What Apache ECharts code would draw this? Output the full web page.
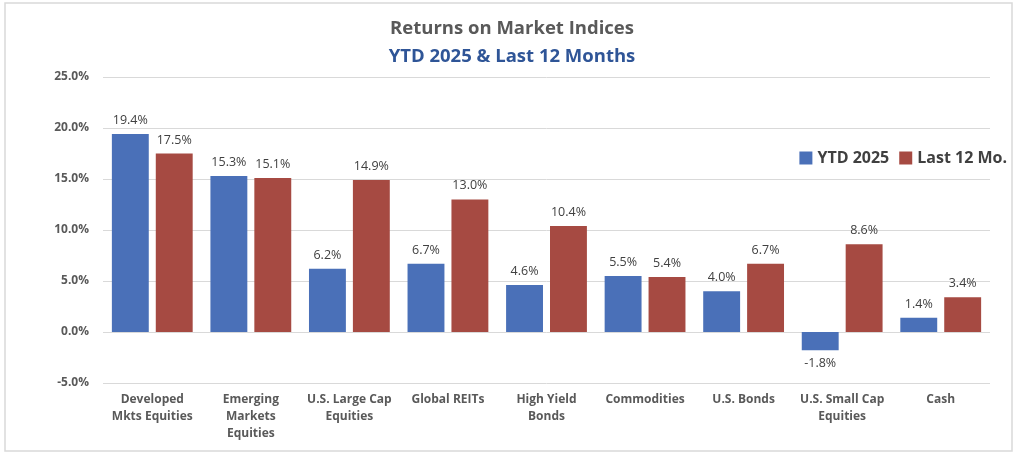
<!DOCTYPE html>
<html><head><meta charset="utf-8">
<script src="https://cdn.jsdelivr.net/npm/echarts@6/dist/echarts.min.js"></script>
<style>html,body{margin:0;padding:0;background:#fff}#c{width:1024px;height:456px}</style>
</head><body><div id="c"></div>
<script>
const categories = ["Developed\nMkts Equities","Emerging\nMarkets\nEquities","U.S. Large Cap\nEquities","Global REITs","High Yield\nBonds","Commodities","U.S. Bonds","U.S. Small Cap\nEquities","Cash"];
const ytd2025 = [19.4, 15.3, 6.2, 6.7, 4.6, 5.5, 4.0, -1.8, 1.4];
const last12 = [17.5, 15.1, 14.9, 13.0, 10.4, 5.4, 6.7, 8.6, 3.4];
const seriesNames = ["YTD 2025", "Last 12 Mo."];
const FONT = "'Open Sans', 'Noto Sans', sans-serif";
function toData(arr){
  return arr.map(v => ({value: v, label: {position: v < 0 ? 'bottom' : 'top'}}));
}
const chart = echarts.init(document.getElementById('c'));
const lbl = {show: true, distance: 7, color: '#404040', fontFamily: FONT, fontSize: 12.5,
  formatter: p => p.value.toFixed(1) + '%'};
chart.setOption({
  animation: false,
  graphic: [{type: 'rect', shape: {x: 5, y: 3, width: 1007, height: 448},
    style: {fill: 'none', stroke: '#d9d9d9', lineWidth: 1.5}, z: -1}],
  title: [
    {text: 'Returns on Market Indices', left: 'center', top: 14,
      textStyle: {color: '#595959', fontSize: 18.5, fontWeight: 'bold', fontFamily: FONT}},
    {text: 'YTD 2025 & Last 12 Months', left: 'center', top: 42,
      textStyle: {color: '#2F5597', fontSize: 18.5, fontWeight: 'bold', fontFamily: FONT}}
  ],
  legend: {data: seriesNames, right: 12, top: 145, itemWidth: 13, itemHeight: 13, itemGap: 10,
    icon: 'rect', textStyle: {color: '#404040', fontSize: 16, fontWeight: 'bold', fontFamily: FONT}},
  grid: {left: 103, right: 34, top: 77, bottom: 73},
  xAxis: {type: 'category', data: categories,
    axisLine: {show: false}, axisTick: {show: false},
    axisLabel: {color: '#595959', fontWeight: 'bold', fontSize: 12, fontFamily: FONT,
      lineHeight: 17, margin: 8, interval: 0}},
  yAxis: {type: 'value', min: -5, max: 25, interval: 5,
    axisLabel: {formatter: v => v.toFixed(1) + '%', color: '#595959', fontWeight: 'bold',
      fontSize: 12, fontFamily: FONT, margin: 14},
    splitLine: {lineStyle: {color: '#d9d9d9', width: 1}},
    axisLine: {show: false}, axisTick: {show: false}},
  series: [
    {name: seriesNames[0], type: 'bar', data: toData(ytd2025), barGap: '19%', barCategoryGap: '18%',
      itemStyle: {color: '#4A70B8'}, label: lbl},
    {name: seriesNames[1], type: 'bar', data: toData(last12), barGap: '19%', barCategoryGap: '18%',
      itemStyle: {color: '#A64A42'}, label: lbl}
  ]
});
</script></body></html>
